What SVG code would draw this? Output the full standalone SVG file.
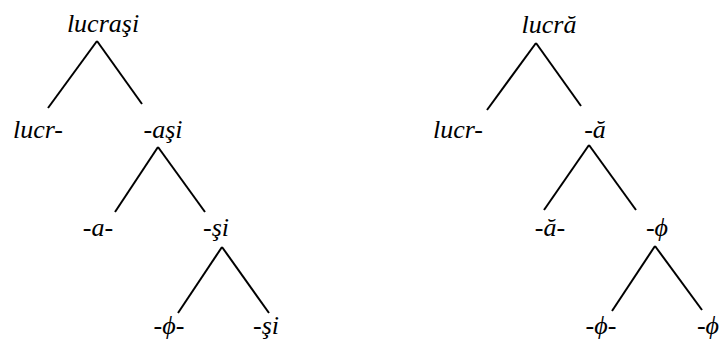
<svg xmlns="http://www.w3.org/2000/svg" width="720" height="341" viewBox="0 0 720 341">
<style>
line{stroke:#000;stroke-width:2;stroke-linecap:butt}
</style>
<rect width="720" height="341" fill="#fff"/>
<g id="connectors">
<line x1="97" y1="41" x2="48" y2="108"/>
<line x1="97" y1="41" x2="142" y2="104"/>
<line x1="158" y1="147" x2="115" y2="212"/>
<line x1="158" y1="147" x2="205" y2="212"/>
<line x1="222" y1="247" x2="178" y2="313"/>
<line x1="222" y1="247" x2="269" y2="313"/>
<line x1="536" y1="43" x2="487" y2="110"/>
<line x1="536" y1="43" x2="581" y2="106"/>
<line x1="589" y1="145" x2="544" y2="210"/>
<line x1="589" y1="145" x2="636" y2="210"/>
<line x1="655" y1="246" x2="612" y2="311"/>
<line x1="655" y1="246" x2="702" y2="310"/>
</g>
<g id="labels" font-family="Liberation Serif" font-style="italic" font-size="26" fill="#000" text-anchor="middle">
<g id="n1"><text x="103" y="32">lucraşi</text></g>
<g id="n2"><text x="38" y="138">lucr-</text></g>
<g id="n3"><text x="163" y="138">-aşi</text></g>
<g id="n4"><text x="98" y="236">-a-</text></g>
<g id="n5"><text x="216" y="236">-şi</text></g>
<g id="n6"><text x="169" y="334">-ϕ-</text></g>
<g id="n7"><text x="266" y="334">-şi</text></g>
<g id="n8"><text x="549" y="33">lucră</text></g>
<g id="n9"><text x="458" y="138">lucr-</text></g>
<g id="n10"><text x="595" y="138">-ă</text></g>
<g id="n11"><text x="550" y="236">-ă-</text></g>
<g id="n12"><text x="657" y="236">-ϕ</text></g>
<g id="n13"><text x="601" y="334">-ϕ-</text></g>
<g id="n14"><text x="708" y="334">-ϕ</text></g>
</g>
</svg>
